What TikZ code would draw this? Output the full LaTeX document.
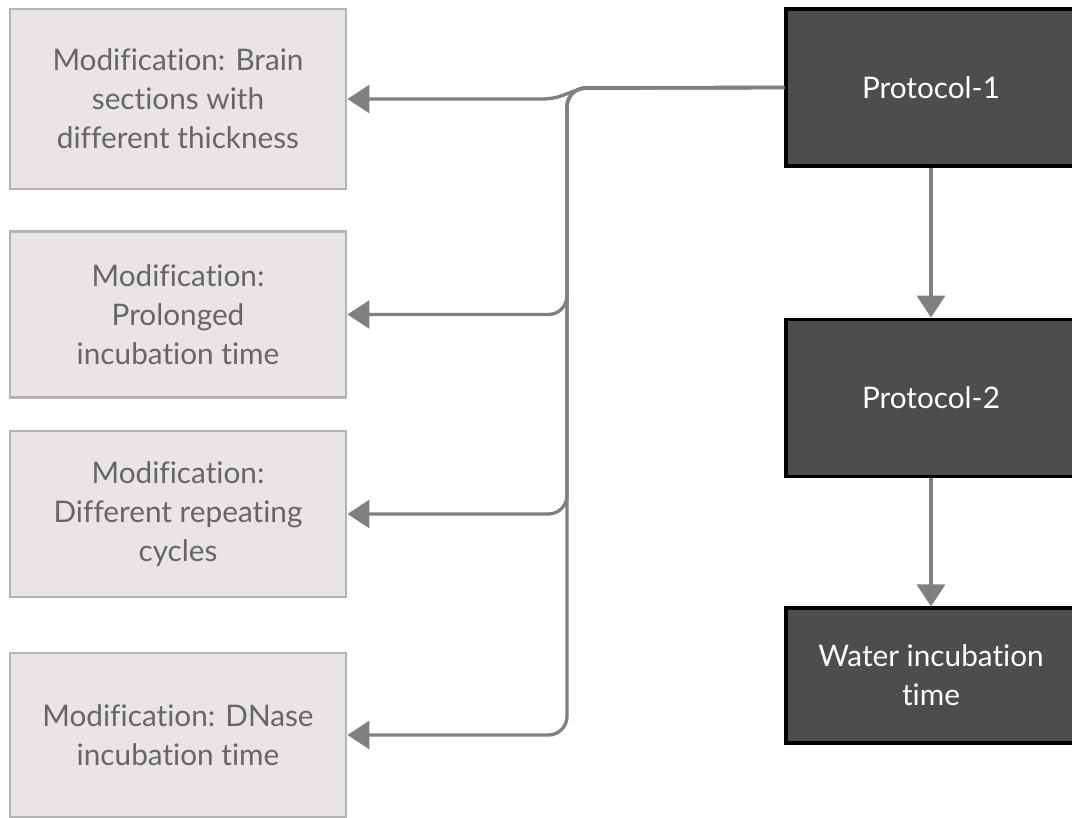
\documentclass[tikz,border=0pt]{standalone}
\usepackage{fontspec}
\setmainfont{Lato}[Ligatures={NoCommon}]
\usetikzlibrary{arrows.meta,positioning,calc}
\definecolor{modfill}{HTML}{E8E4E8}
\definecolor{modline}{HTML}{B4B4B4}
\definecolor{modtext}{HTML}{666666}
\definecolor{protofill}{HTML}{4D4D4D}
\definecolor{linkgray}{HTML}{808080}

\begin{document}
\begin{tikzpicture}[
  x=0.75pt, y=-0.75pt,
  modbox/.style={rectangle, draw=modline, fill=modfill, line width=2.2pt,
                 minimum width=252pt, text=modtext, align=center,
                 font=\fontsize{22.3}{29.25}\selectfont},
  protobox/.style={rectangle, draw=black, fill=protofill, line width=2.6pt,
                   minimum width=217.5pt, text=white, align=center,
                   font=\fontsize{22.3}{29.25}\selectfont},
  link/.style={draw=linkgray, line width=2.5pt},
  arrow/.style={link, -{Triangle[length=16.5pt,width=21pt]}}
]
\useasboundingbox (0,0) rectangle (1072,818);

% Modifikationen (links)
\node[modbox, minimum height=135pt] (mod1) at (178,99) {Modification: Brain\\sections with\\different thickness};
\node[modbox, minimum height=125pt] (mod2) at (178,314.5) {Modification:\\Prolonged\\incubation time};
\node[modbox, minimum height=124.5pt] (mod3) at (178,514) {Modification:\\Different repeating\\cycles};
\node[modbox, minimum height=123pt] (mod4) at (178,735) {Modification: DNase\\incubation time};

% Protokolle (rechts)
\node[protobox, minimum height=118pt] (prot1) at (931,87.5) {Protocol-1};
\node[protobox, minimum height=118pt] (prot2) at (931,398) {Protocol-2};
\node[protobox, minimum height=101pt] (water) at (931,675.5) {Water incubation\\time};

% Sammelschiene
\coordinate (bus) at (567,88);

% Pfeile nach links
\draw[arrow] (prot1.west) -- ($(bus)+(24,0)$) .. controls ($(bus)+(4,0)$) and ($(bus)+(-2,11)$) .. ($(bus)+(-25,11)$) -- (mod1.east);
\draw[arrow, rounded corners=14pt] (prot1.west) -- (bus) |- (mod2.east);
\draw[arrow, rounded corners=14pt] (prot1.west) -- (bus) |- (mod3.east);
\draw[arrow, rounded corners=14pt] (prot1.west) -- (bus) |- (mod4.east);

% Pfeile nach unten
\draw[arrow] (prot1) -- (prot2);
\draw[arrow] (prot2) -- (water);

\end{tikzpicture}
\end{document}
